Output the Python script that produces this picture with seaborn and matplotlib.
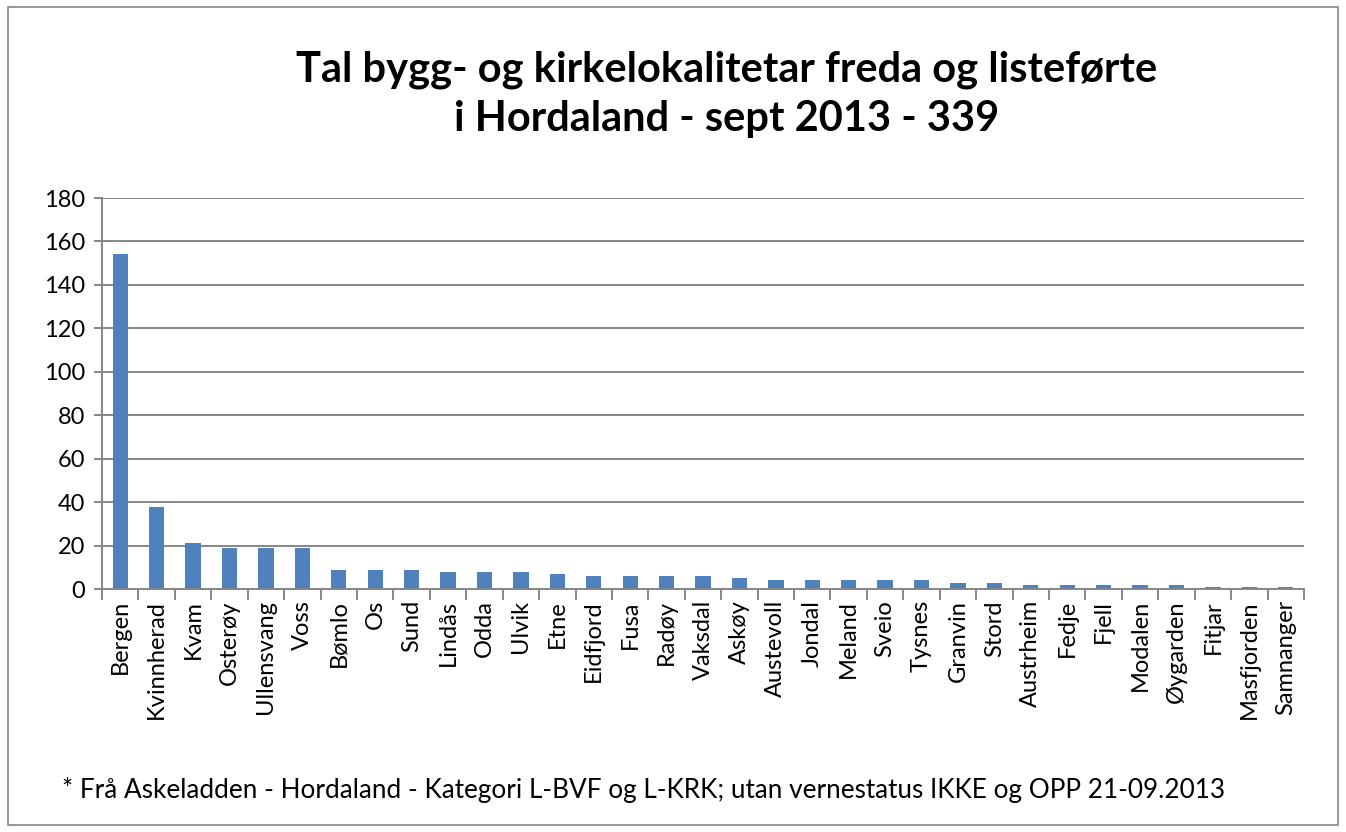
import numpy as np
import pandas as pd
import seaborn as sns
import matplotlib.pyplot as plt
from matplotlib.patches import Rectangle

# Municipalities and counts
kommunar = ['Bergen', 'Kvinnherad', 'Kvam', 'Osterøy', 'Ullensvang', 'Voss',
            'Bømlo', 'Os', 'Sund', 'Lindås', 'Odda', 'Ulvik', 'Etne',
            'Eidfjord', 'Fusa', 'Radøy', 'Vaksdal', 'Askøy', 'Austevoll',
            'Jondal', 'Meland', 'Sveio', 'Tysnes', 'Granvin', 'Stord',
            'Austrheim', 'Fedje', 'Fjell', 'Modalen', 'Øygarden', 'Fitjar',
            'Masfjorden', 'Samnanger']
tal = [154, 38, 21, 19, 19, 19, 9, 9, 9, 8, 8, 8, 7, 6, 6, 6, 6, 5, 4, 4, 4,
       4, 4, 3, 3, 2, 2, 2, 2, 2, 1, 1, 1]
y_ticks = [0, 20, 40, 60, 80, 100, 120, 140, 160, 180]

title = 'Tal bygg- og kirkelokalitetar freda og listeførte\ni Hordaland - sept 2013 - 339'
note = '* Frå Askeladden - Hordaland - Kategori L-BVF og L-KRK; utan vernestatus IKKE og OPP 21-09.2013'

df = pd.DataFrame({'kommune': kommunar, 'tal': tal})

sns.set_theme(style='white')
plt.rcParams['font.family'] = ['Lato', 'DejaVu Sans']
plt.rcParams['text.color'] = 'black'
plt.rcParams['xtick.labelcolor'] = 'black'
plt.rcParams['ytick.labelcolor'] = 'black'

grey = '#868686'
fig = plt.figure(figsize=(13.46, 8.32), dpi=100)
ax = fig.add_axes([0.0758, 0.292, 0.893, 0.470])

sns.barplot(data=df, x='kommune', y='tal', color='#4F81BD', width=0.42,
            saturation=1, linewidth=0, ax=ax)

ax.set_ylim(0, 180)
ax.set_xlim(-0.5, len(kommunar) - 0.5)
ax.set_yticks(y_ticks)
ax.set_yticklabels([str(v) for v in y_ticks], fontsize=17)
ax.yaxis.grid(True, color=grey, linewidth=1.4)
ax.set_axisbelow(True)

# category labels, with tick marks between categories
ax.set_xticks(range(len(kommunar)))
ax.set_xticklabels(kommunar, rotation=90, fontsize=17)
ax.set_xticks(np.arange(-0.5, len(kommunar), 1.0), minor=True)
ax.tick_params(axis='x', which='major', length=0, pad=8)
ax.tick_params(axis='x', which='minor', length=8, width=1.4, color=grey,
               direction='out', bottom=True)
ax.tick_params(axis='y', length=6, width=1.4, color=grey, left=True, pad=6)
ax.set_xlabel('')
ax.set_ylabel('')

for side in ['top', 'right']:
    ax.spines[side].set_visible(False)
for side in ['left', 'bottom']:
    ax.spines[side].set_color(grey)
    ax.spines[side].set_linewidth(1.4)

fig.text(0.54, 0.887, title, ha='center', va='center', fontsize=30,
         fontweight='bold', linespacing=1.35, color='black')
fig.text(0.046, 0.05, note, ha='left', va='center', fontsize=18.8,
         color='black')

fig.patches.append(Rectangle((0.006, 0.008), 0.988, 0.984,
                             transform=fig.transFigure, fill=False,
                             edgecolor=grey, linewidth=1.2))

fig.savefig('out.png', dpi=100)
